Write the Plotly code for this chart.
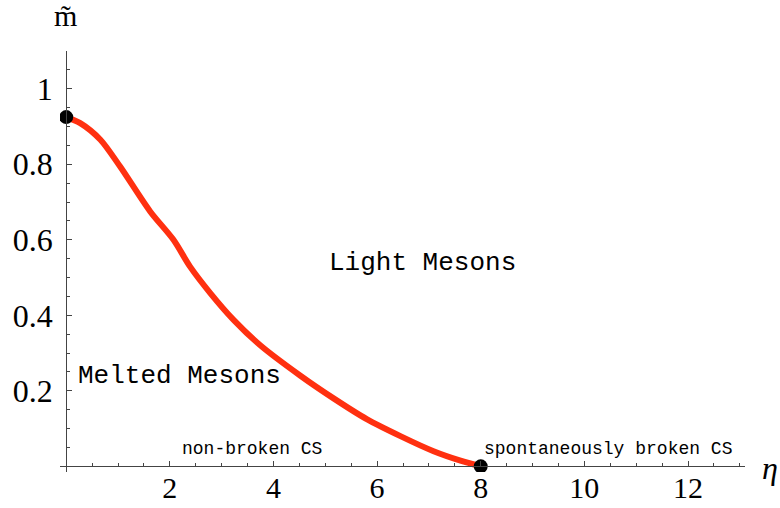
import plotly.graph_objects as go

eta = [0.0, 0.27, 0.66, 1.04, 1.62, 2.07, 2.39, 2.78, 3.23, 3.75, 4.52, 5.16, 5.80, 6.45, 7.09, 7.61, 8.0]
m_tilde = [0.925, 0.909, 0.865, 0.794, 0.675, 0.600, 0.529, 0.459, 0.388, 0.320, 0.240, 0.180, 0.125, 0.080, 0.040, 0.015, 0.0]
end_eta = [0.0, 8.0]
end_m = [0.925, 0.0]
x_ticks = [2, 4, 6, 8, 10, 12]
y_ticks = [0.2, 0.4, 0.6, 0.8, 1.0]
y_tick_labels = ["0.2", "0.4", "0.6", "0.8", "1"]

XR = [-0.12, 13.1]
YR = [-0.015, 1.10]

fig = go.Figure()
fig.add_trace(go.Scatter(x=eta, y=m_tilde, mode="lines",
                         line=dict(color="#ff3010", width=6, shape="spline", smoothing=0.8),
                         hoverinfo="skip"))
fig.add_trace(go.Scatter(x=end_eta, y=end_m, mode="markers",
                         marker=dict(color="black", size=14), hoverinfo="skip"))

mono = "Liberation Mono"
serif = "Liberation Serif"
ann = [
    dict(x=6.87, y=0.539, text="Light Mesons", size=26),
    dict(x=2.19, y=0.239, text="Melted Mesons", size=26),
    dict(x=3.59, y=0.046, text="non-broken CS", size=18),
    dict(x=10.46, y=0.046, text="spontaneously broken CS", size=18),
]
for a in ann:
    fig.add_annotation(x=a["x"], y=a["y"], xref="x", yref="y", text=a["text"], showarrow=False,
                       font=dict(family=mono, size=a["size"], color="black"),
                       xanchor="center", yanchor="middle")

fig.add_annotation(x=1.0365, y=0.01, xref="paper", yref="paper", text="<i>η</i>", showarrow=False,
                   font=dict(family=serif, size=32, color="black"), xanchor="center", yanchor="middle")
fig.add_annotation(x=0.0073, y=1.085, xref="paper", yref="paper", text="m̃", showarrow=False,
                   font=dict(family=serif, size=30, color="black"), xanchor="center", yanchor="middle")

x0_paper = (0 - XR[0]) / (XR[1] - XR[0])
y0_paper = (0 - YR[0]) / (YR[1] - YR[0])

fig.update_layout(
    width=780, height=508,
    margin=dict(l=60, r=35, t=51, b=36),
    plot_bgcolor="white", paper_bgcolor="white",
    showlegend=False,
    xaxis=dict(range=XR, anchor="free", position=y0_paper, showgrid=False, zeroline=False,
               automargin=False,
               showline=True, linecolor="#444", linewidth=1,
               tickmode="array", tickvals=x_ticks, ticktext=[str(v) for v in x_ticks],
               ticks="inside", ticklen=5, tickcolor="#444", ticklabelstandoff=-5,
               minor=dict(dtick=0.5, tick0=0, ticks="inside", ticklen=3, tickcolor="#444", showgrid=False),
               tickfont=dict(family=serif, size=30, color="black")),
    yaxis=dict(range=YR, anchor="free", position=x0_paper, showgrid=False, zeroline=False,
               automargin=False,
               showline=True, linecolor="#444", linewidth=1,
               tickmode="array", tickvals=y_ticks, ticktext=y_tick_labels,
               ticks="inside", ticklen=5, tickcolor="#444", ticklabelstandoff=7,
               minor=dict(dtick=0.05, tick0=0, ticks="inside", ticklen=3, tickcolor="#444", showgrid=False),
               tickfont=dict(family=serif, size=32, color="black")),
)

fig.write_html("out.html", config={"displayModeBar": False},
               post_script="document.body.style.margin='0';document.body.style.overflow='hidden';")
